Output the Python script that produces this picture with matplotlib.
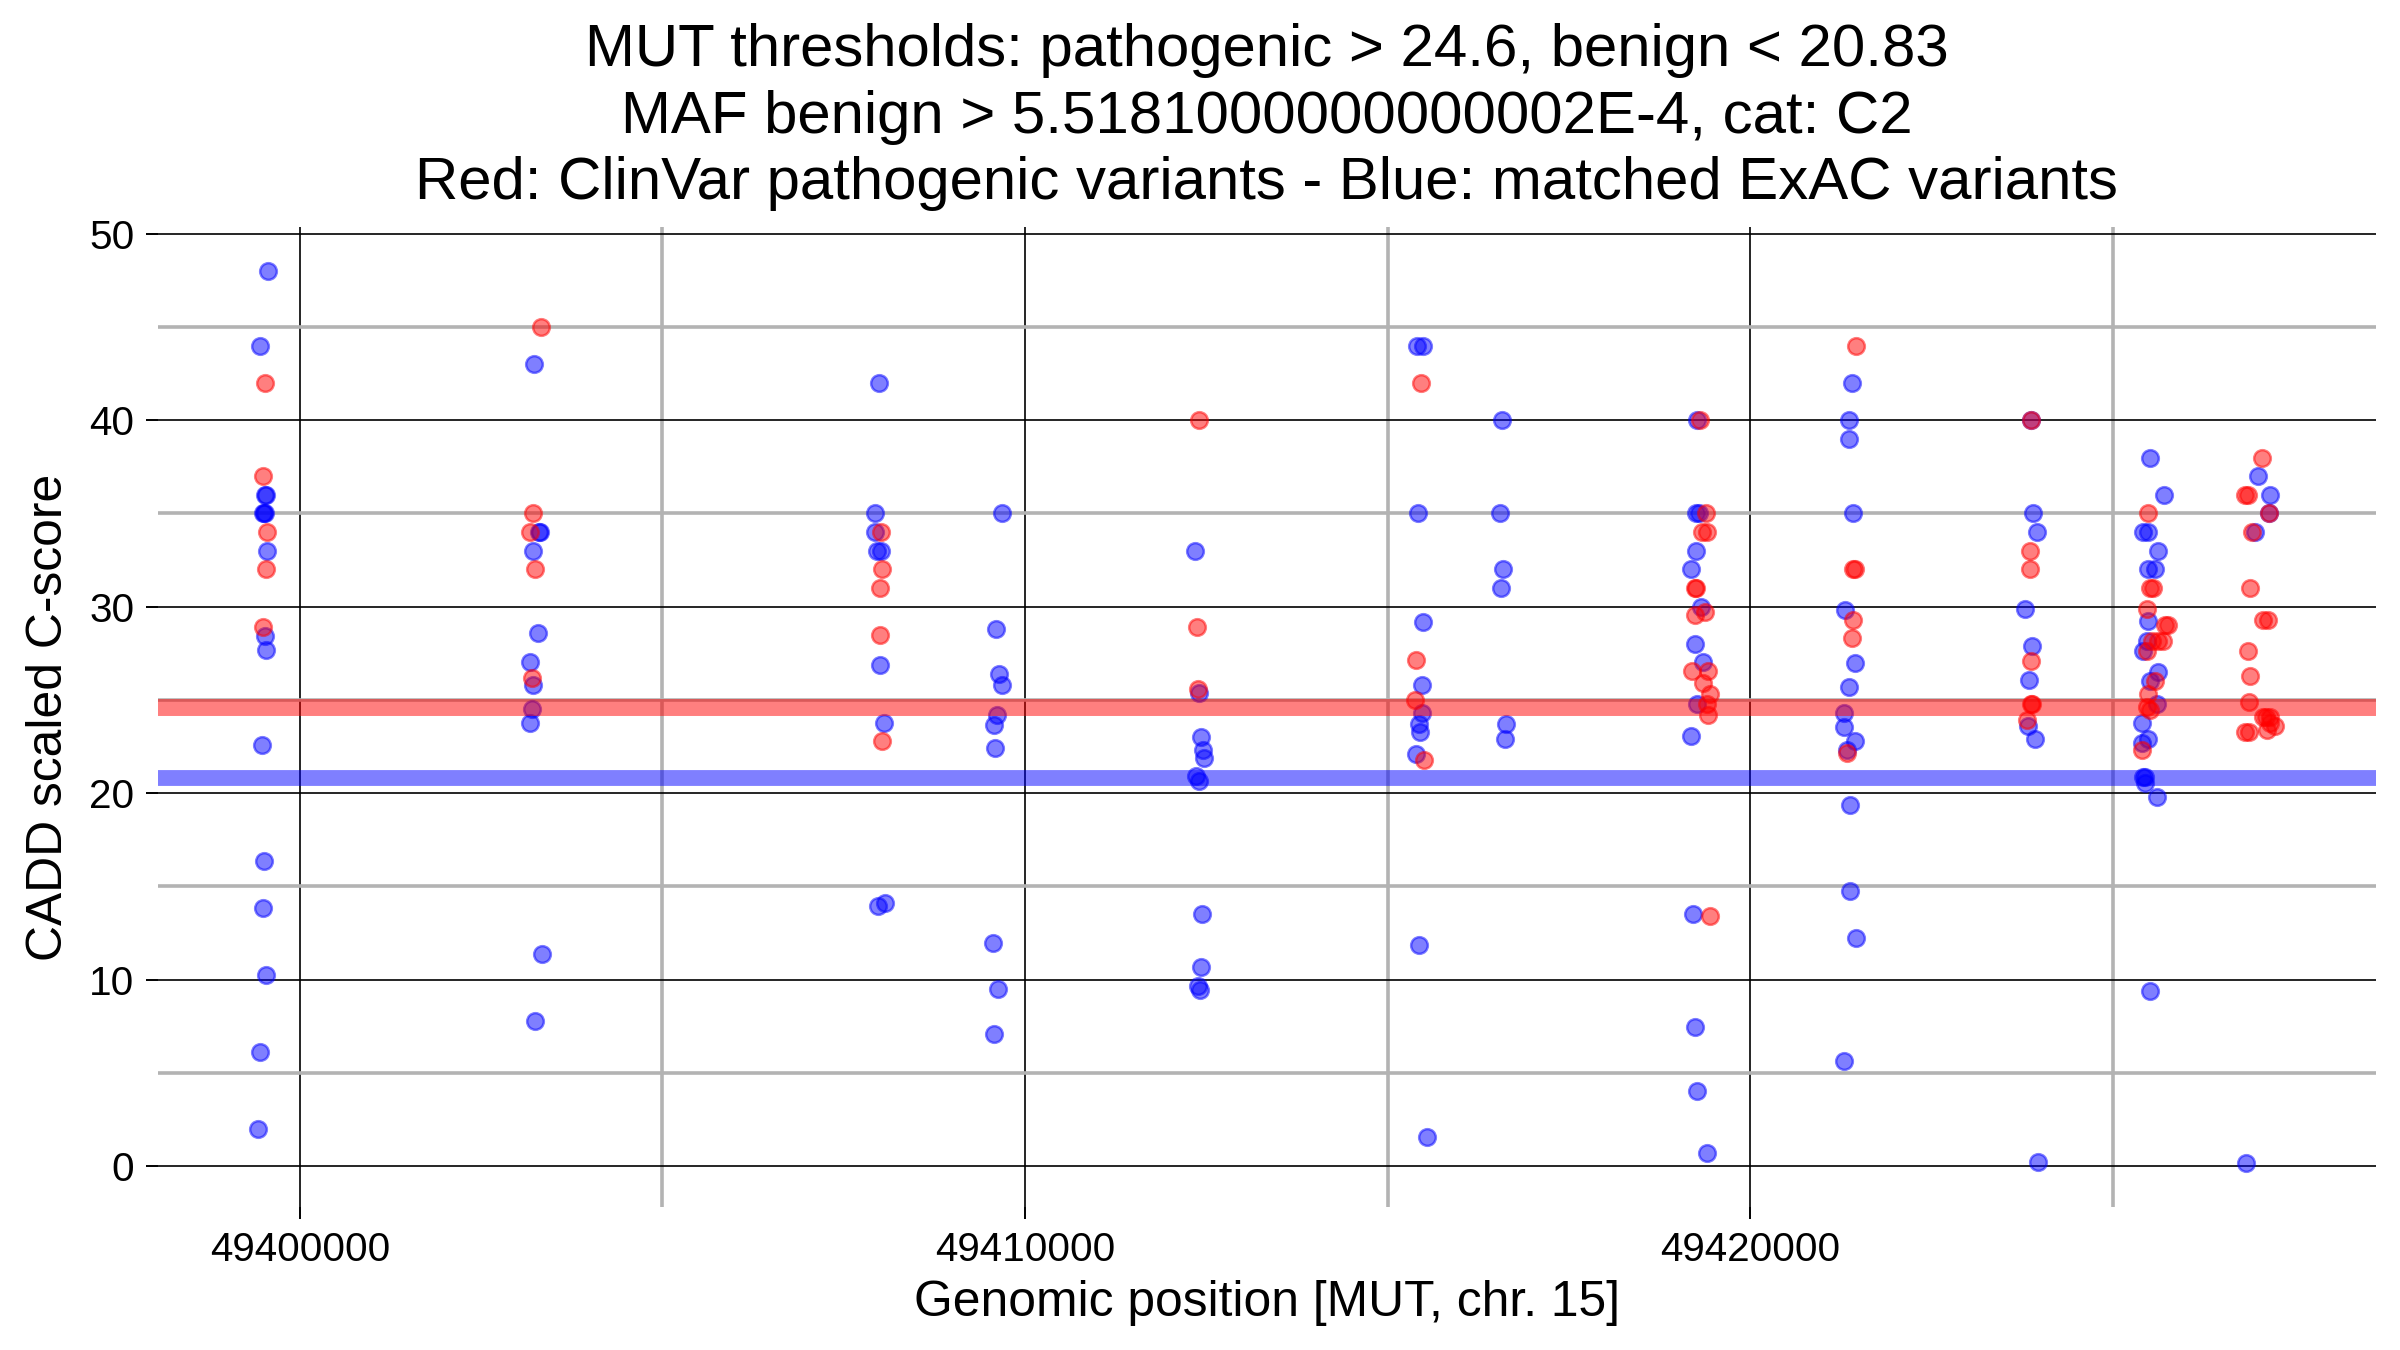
import matplotlib
matplotlib.use('Agg')
import matplotlib.pyplot as plt
import numpy as np

plt.rcParams['font.family'] = ['Liberation Sans', 'DejaVu Sans']

# -------------------------- data --------------------------
# matched ExAC variants (blue)
blue_pos = [
    49399564, 49399458, 49399518, 49399540, 49399490, 49399505, 49399520, 49399545,
    49399523, 49399537, 49399486, 49399504, 49399500, 49399537, 49399449, 49399431,
    49403235, 49403295, 49403310, 49403217, 49403286, 49403171, 49403212, 49403199,
    49403171, 49403341, 49403245,
    49407982, 49407932, 49407936, 49407955, 49408010, 49408005, 49408050, 49407968, 49408065,
    49409683, 49409600, 49409641, 49409687, 49409615, 49409577, 49409587, 49409564, 49409628, 49409573,
    49412347, 49412398, 49412434, 49412462, 49412466, 49412361, 49412407, 49412448, 49412426,
    49412389, 49412417,
    49415403, 49415486, 49415417, 49415486, 49415481, 49415472, 49415431, 49415449, 49415394,
    49415431, 49415541,
    49416579, 49416556, 49416588, 49416570, 49416634, 49416625,
    49419263, 49419254, 49419300, 49419254, 49419190, 49419323, 49419245, 49419355, 49419272,
    49419180, 49419217, 49419235, 49419272, 49419401,
    49421399, 49421363, 49421363, 49421413, 49421307, 49421450, 49421368, 49421298, 49421298,
    49421445, 49421340, 49421381, 49421377, 49421464, 49421298,
    49423872, 49423899, 49423954, 49423795, 49423885, 49423844, 49423835, 49423927, 49423963,
    49425512, 49425705, 49425420, 49425489, 49425627, 49425489, 49425581, 49425481, 49425467,
    49425420, 49425627, 49425512, 49425604, 49425398, 49425489, 49425398, 49425420, 49425444,
    49425444, 49425613, 49425512,
    49427001, 49427175, 49427157, 49426969, 49426845,
]
blue_score = [
    48, 44, 36, 36, 35, 35, 35, 33,
    28.45, 27.67, 22.57, 16.35, 13.85, 10.26, 6.09, 1.98,
    43, 34, 34, 33, 28.59, 27.02, 25.79, 24.5,
    23.77, 11.35, 7.76,
    42, 35, 34, 33, 33, 26.88, 23.77, 13.92, 14.09,
    35, 28.8, 26.4, 25.79, 24.2, 23.67, 22.4, 11.94, 9.51, 7.08,
    33, 25.38, 23.02, 22.33, 21.89, 20.93, 20.66, 13.51, 10.67,
    9.68, 9.44,
    44, 44, 35, 29.17, 25.79, 24.32, 23.7, 23.26, 22.09,
    11.83, 1.57,
    40, 35, 32, 31, 23.7, 22.88,
    40, 35, 35, 33, 32, 30, 27.98, 27.02, 24.8,
    23.08, 13.51, 7.46, 4.0, 0.72,
    42, 40, 39, 35, 29.82, 26.98, 25.68, 24.3, 23.56,
    22.78, 22.33, 19.39, 14.74, 12.21, 5.61,
    40, 35, 34, 29.89, 27.9, 26.09, 23.6, 22.88, 0.24,
    38, 36, 34, 34, 33, 32, 32, 29.24, 28.15,
    27.6, 26.5, 26, 24.8, 23.77, 22.88, 22.67, 20.86, 20.86,
    20.52, 19.8, 9.37,
    37, 36, 35, 34, 0.17,
]

# ClinVar pathogenic variants (red)
red_pos = [
    49399518, 49399495, 49399545, 49399532, 49399500,
    49403322, 49403217, 49403180, 49403240, 49403199,
    49408009, 49408023, 49408005, 49407996, 49408023,
    49412398, 49412371, 49412380,
    49415458, 49415394, 49415385, 49415504,
    49419309, 49419390, 49419332, 49419401, 49419245, 49419260, 49419240, 49419378,
    49419194, 49419414, 49419355, 49419447, 49419401, 49419423, 49419440,
    49421459, 49421413, 49421445, 49421413, 49421399, 49421340,
    49423872, 49423858, 49423858, 49423867, 49423881, 49423870, 49423813,
    49425481, 49425512, 49425558, 49425467, 49425720, 49425760, 49425535, 49425627, 49425696,
    49425467, 49425581, 49425489, 49425467, 49425512, 49425407,
    49427052, 49426821, 49426867, 49427157, 49426914, 49426900, 49427074, 49427143, 49426863,
    49426900, 49426881, 49427074, 49427120, 49427166, 49427166, 49427234, 49427129, 49426821,
    49426881,
]
red_score = [
    42, 37, 34, 32, 28.9,
    45, 35, 34, 32, 26.16,
    34, 32, 31, 28.49, 22.78,
    40, 28.9, 25.58,
    42, 27.12, 24.97, 21.78,
    40, 35, 34, 34, 31, 31, 29.58, 29.7,
    26.57, 26.57, 25.89, 25.3, 24.8, 24.18, 13.41,
    44, 32, 32, 29.31, 28.32, 22.13,
    40, 33, 32, 27.09, 24.8, 24.8, 23.94,
    35, 31, 31, 29.9, 29.0, 29.0, 28.15, 28.15, 28.15,
    27.6, 26, 25.3, 24.6, 24.45, 22.33,
    38, 36, 36, 35, 34, 31, 29.3, 29.3, 27.6,
    26.3, 24.9, 24.1, 24.1, 24.1, 23.77, 23.6, 23.4, 23.3,
    23.3,
]

thr_pathogenic = 24.6
thr_benign = 20.83
title = ("MUT thresholds: pathogenic > 24.6, benign < 20.83\n"
         "MAF benign > 5.5181000000000002E-4, cat: C2\n"
         "Red: ClinVar pathogenic variants - Blue: matched ExAC variants")

x_major = [49400000, 49410000, 49420000]
x_minor = [49405000, 49415000, 49425000]
y_major = [0, 10, 20, 30, 40, 50]
y_minor = [5, 15, 25, 35, 45]

# -------------------------- plot --------------------------
fig = plt.figure(figsize=(12, 6.75), dpi=200)
ax = fig.add_axes([0.0657, 0.1056, 0.9241, 0.7266])

ax.scatter(blue_pos, blue_score, s=36, color='blue', alpha=0.5,
           edgecolors='blue', linewidths=0.9, zorder=2)
ax.scatter(red_pos, red_score, s=36, color='red', alpha=0.5,
           edgecolors='red', linewidths=0.9, zorder=2)

ax.axhline(thr_pathogenic, color='red', alpha=0.5, lw=6.1, zorder=3)
ax.axhline(thr_benign, color='blue', alpha=0.5, lw=5.7, zorder=3)

# ggplot-like 5% expansion
all_x = np.array(blue_pos + red_pos)
all_y = np.array(blue_score + red_score)
dx = (all_x.max() - all_x.min()) * 0.05
dy = (all_y.max() - all_y.min()) * 0.05
ax.set_xlim(all_x.min() - dx, all_x.max() + dx)
ax.set_ylim(all_y.min() - dy, all_y.max() + dy)

ax.set_xticks(x_major)
ax.set_xticks(x_minor, minor=True)
ax.set_yticks(y_major)
ax.set_yticks(y_minor, minor=True)
ax.ticklabel_format(axis='x', useOffset=False, style='plain')

ax.set_axisbelow(True)
ax.grid(which='major', color='black', lw=0.6)
ax.grid(which='minor', color='#b3b3b3', lw=1.3)
for s in ax.spines.values():
    s.set_visible(False)
ax.tick_params(which='major', length=4.4, width=0.7, labelsize=14.6, pad=4)
ax.tick_params(which='minor', length=0)

ax.set_xlabel('Genomic position [MUT, chr. 15]', fontsize=17.9, labelpad=4)
ax.set_ylabel('CADD scaled C-score', fontsize=17.9, labelpad=6)
ax.set_title(title, fontsize=21.6, linespacing=1.26, pad=10)

plt.savefig('out.png', dpi=200)
